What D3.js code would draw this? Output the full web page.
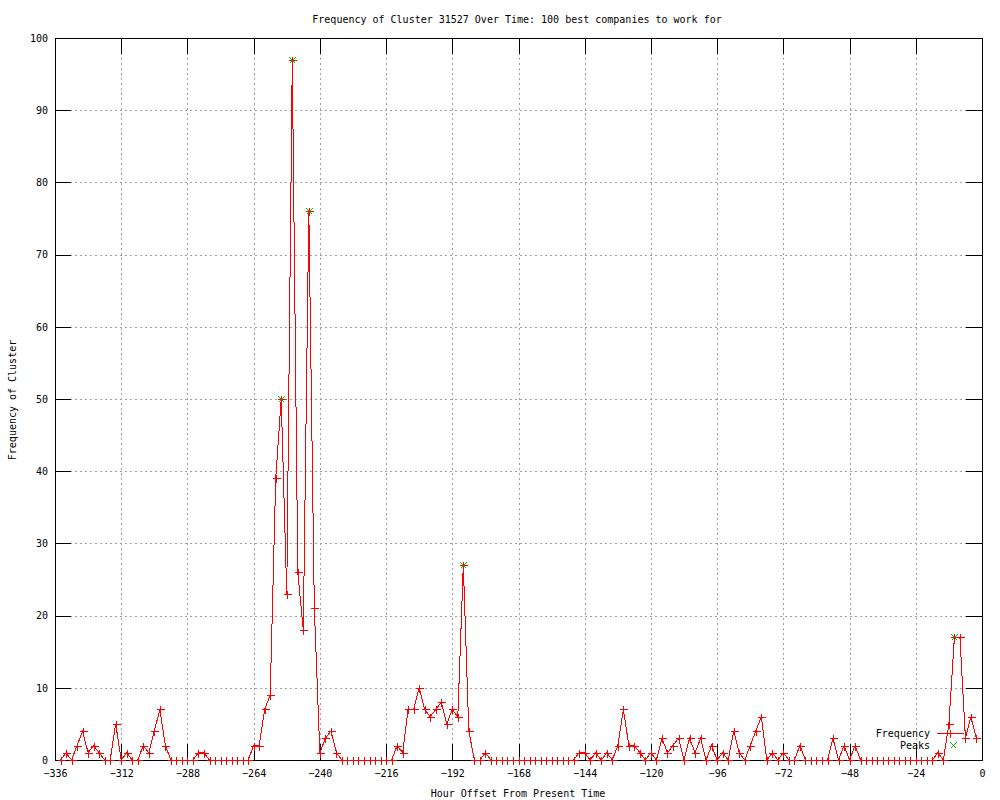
<!DOCTYPE html>
<html>
<head>
<meta charset="utf-8">
<script src="https://cdn.jsdelivr.net/npm/d3@7"></script>
<style>
    body { margin: 0; background: #fff; }
    text { font-family: "DejaVu Sans Mono", monospace; font-size: 10px; fill: #000; }
</style>
</head>
<body>
<div id="chart"></div>
<script>

// hour offsets of each sample
var hours = [
    -334,-332,-330,-328,-326,-324,-322,-320,-318,-316,
    -314,-312,-310,-308,-306,-304,-302,-300,-298,-296,
    -294,-292,-290,-288,-286,-284,-282,-280,-278,-276,
    -274,-272,-270,-268,-266,-264,-262,-260,-258,-256,
    -254,-252,-250,-248,-246,-244,-242,-240,-238,-236,
    -234,-232,-230,-228,-226,-224,-222,-220,-218,-216,
    -214,-212,-210,-208,-206,-204,-202,-200,-198,-196,
    -194,-192,-190,-188,-186,-184,-182,-180,-178,-176,
    -174,-172,-170,-168,-166,-164,-162,-160,-158,-156,
    -154,-152,-150,-148,-146,-144,-142,-140,-138,-136,
    -134,-132,-130,-128,-126,-124,-122,-120,-118,-116,
    -114,-112,-110,-108,-106,-104,-102,-100,-98,-96,
    -94,-92,-90,-88,-86,-84,-82,-80,-78,-76,
    -74,-72,-70,-68,-66,-64,-62,-60,-58,-56,
    -54,-52,-50,-48,-46,-44,-42,-40,-38,-36,
    -34,-32,-30,-28,-26,-24,-22,-20,-18,-16,
    -14,-12,-10,-8,-6,-4,-2
];

var frequency = [
    0,1,0,2,4,1,2,1,0,0,
    5,0,1,0,0,2,1,4,7,2,
    0,0,0,0,0,1,1,0,0,0,
    0,0,0,0,0,2,2,7,9,39,
    50,23,97,26,18,76,21,1,3,4,
    1,0,0,0,0,0,0,0,0,0,
    0,2,1,7,7,10,7,6,7,8,
    5,7,6,27,4,0,0,1,0,0,
    0,0,0,0,0,0,0,0,0,0,
    0,0,0,0,1,1,0,1,0,1,
    0,2,7,2,2,1,0,1,0,3,
    1,2,3,0,3,1,3,0,2,0,
    1,0,4,1,0,2,4,6,0,1,
    0,1,0,0,2,0,0,0,0,0,
    3,0,2,0,2,0,0,0,0,0,
    0,0,0,0,0,0,0,0,0,1,
    0,5,17,17,3,6,3
];

var peakHours = [-254, -250, -244, -188, -10];
var peakValues = [50, 97, 76, 27, 17];

var xTicks = [-336, -312, -288, -264, -240, -216, -192, -168, -144, -120, -96, -72, -48, -24, 0];
var yTicks = [0, 10, 20, 30, 40, 50, 60, 70, 80, 90, 100];

var titleText = "Frequency of Cluster 31527 Over Time: 100 best companies to work for";
var xLabel = "Hour Offset From Present Time";
var yLabel = "Frequency of Cluster";
var legendNames = ["Frequency", "Peaks"];

var width = 1000, height = 800;
var plot = {left: 55, right: 982, top: 38, bottom: 760};

var svg = d3.select("#chart").append("svg")
    .attr("width", width)
    .attr("height", height)
    .style("display", "block");

svg.append("rect").attr("width", width).attr("height", height).attr("fill", "#fff");

var x = d3.scaleLinear().domain([-336, 0]).range([plot.left, plot.right]);
var y = d3.scaleLinear().domain([0, 100]).range([plot.bottom, plot.top]);

// dotted grid
var grid = svg.append("g")
    .attr("stroke", "#a0a0a0")
    .attr("stroke-dasharray", "2,3")
    .attr("shape-rendering", "crispEdges");

grid.selectAll("line.v").data(xTicks).enter().append("line")
    .attr("x1", function(d) { return Math.round(x(d)) + 0.5; })
    .attr("x2", function(d) { return Math.round(x(d)) + 0.5; })
    .attr("y1", plot.top)
    .attr("y2", plot.bottom);

grid.selectAll("line.h").data(yTicks).enter().append("line")
    .attr("y1", function(d) { return Math.round(y(d)) + 0.5; })
    .attr("y2", function(d) { return Math.round(y(d)) + 0.5; })
    .attr("x1", plot.left)
    .attr("x2", plot.right);

// axes, ticks point inward and are mirrored
var bottomAxis = d3.axisBottom(x).tickValues(xTicks).tickSizeInner(-16).tickSizeOuter(0).tickPadding(10);
var topAxis = d3.axisTop(x).tickValues(xTicks).tickSizeInner(-16).tickSizeOuter(0).tickFormat("");
var leftAxis = d3.axisLeft(y).tickValues(yTicks).tickSizeInner(-16).tickSizeOuter(0).tickPadding(7);
var rightAxis = d3.axisRight(y).tickValues(yTicks).tickSizeInner(-16).tickSizeOuter(0).tickFormat("");

function styleAxis(g) {
    g.select(".domain").remove();
    g.selectAll(".tick line").attr("stroke", "#000").attr("shape-rendering", "crispEdges");
    g.selectAll(".tick text")
        .style("font-family", "'DejaVu Sans Mono', monospace")
        .style("font-size", "10px")
        .attr("fill", "#000");
}

svg.append("g").attr("transform", "translate(0," + plot.bottom + ")").call(bottomAxis).call(styleAxis);
svg.append("g").attr("transform", "translate(0," + plot.top + ")").call(topAxis).call(styleAxis);
svg.append("g").attr("transform", "translate(" + plot.left + ",0)").call(leftAxis).call(styleAxis);
svg.append("g").attr("transform", "translate(" + plot.right + ",0)").call(rightAxis).call(styleAxis);

svg.append("rect")
    .attr("x", plot.left + 0.5)
    .attr("y", plot.top + 0.5)
    .attr("width", plot.right - plot.left)
    .attr("height", plot.bottom - plot.top)
    .attr("fill", "none")
    .attr("stroke", "#000")
    .attr("shape-rendering", "crispEdges");

// frequency line + points
var data = hours.map(function(h, i) { return {hour: h, value: frequency[i]}; });
var peaks = peakHours.map(function(h, i) { return {hour: h, value: peakValues[i]}; });

var line = d3.line()
    .x(function(d) { return x(d.hour); })
    .y(function(d) { return y(d.value); });

svg.append("path")
    .datum(data)
    .attr("d", line)
    .attr("fill", "none")
    .attr("stroke", "#ff0000")
    .attr("stroke-width", 1)
    .attr("shape-rendering", "crispEdges");

function plusPath(cx, cy) {
    cx = Math.round(cx) + 0.5; cy = Math.round(cy) + 0.5;
    return "M" + (cx - 4) + "," + cy + "h8M" + cx + "," + (cy - 4) + "v8";
}
function crossPath(cx, cy) {
    cx = Math.round(cx) + 0.5; cy = Math.round(cy) + 0.5;
    return "M" + (cx - 3) + "," + (cy - 3) + "l6,6M" + (cx - 3) + "," + (cy + 3) + "l6,-6";
}

svg.append("g").selectAll("path").data(data).enter().append("path")
    .attr("d", function(d) { return plusPath(x(d.hour), y(d.value)); })
    .attr("stroke", "#ff0000")
    .attr("fill", "none")
    .attr("shape-rendering", "crispEdges");

svg.append("g").selectAll("path").data(peaks).enter().append("path")
    .attr("d", function(d) { return crossPath(x(d.hour), y(d.value)); })
    .attr("stroke", "#00c000")
    .attr("fill", "none")
    .attr("shape-rendering", "crispEdges");

// legend
var legend = svg.append("g").attr("shape-rendering", "crispEdges");
legend.append("text").attr("x", 930).attr("y", 736.5).attr("text-anchor", "end").text(legendNames[0]);
legend.append("path").attr("d", "M937,733.5H964").attr("stroke", "#ff0000").attr("fill", "none");
legend.append("path").attr("d", plusPath(950, 733)).attr("stroke", "#ff0000").attr("fill", "none");
legend.append("text").attr("x", 930).attr("y", 749).attr("text-anchor", "end").text(legendNames[1]);
legend.append("path").attr("d", crossPath(953, 745)).attr("stroke", "#00c000").attr("fill", "none");

// titles
svg.append("text").attr("x", 517).attr("y", 23).attr("text-anchor", "middle").text(titleText);
svg.append("text").attr("x", 518).attr("y", 797).attr("text-anchor", "middle").text(xLabel);
svg.append("text")
    .attr("transform", "translate(16,400) rotate(-90)")
    .attr("text-anchor", "middle")
    .text(yLabel);

</script>
</body>
</html>
